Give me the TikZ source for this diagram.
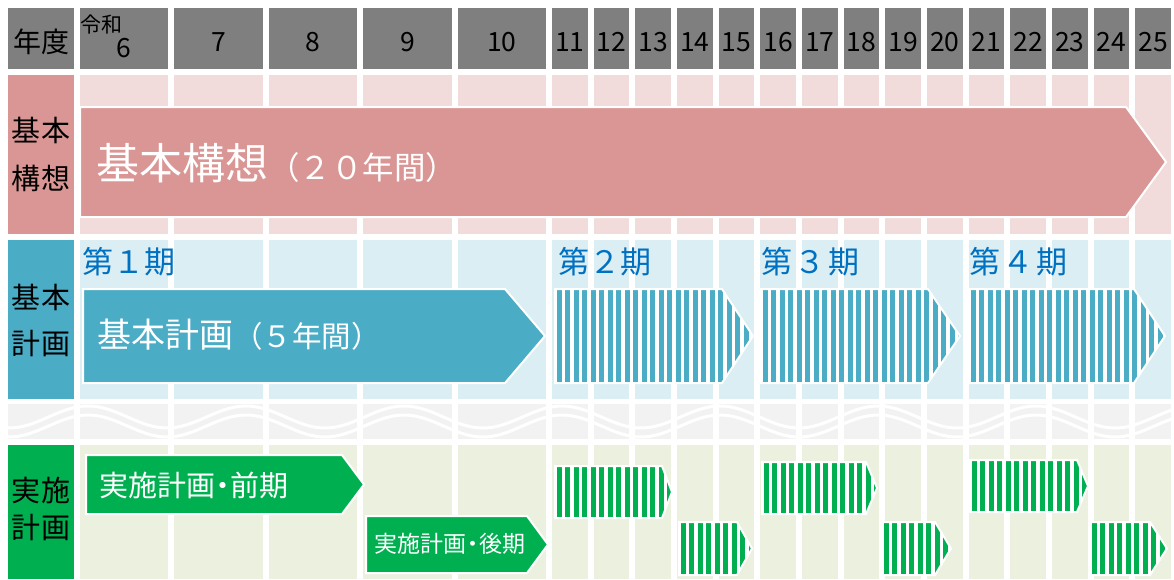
\documentclass[tikz,border=0pt]{standalone}
\usepackage{fontspec}
\setmainfont{Noto Sans CJK JP}
\definecolor{hdrgray}{HTML}{7F7F7F}
\definecolor{pinkL}{HTML}{DA9694}
\definecolor{pinkBG}{HTML}{F2DCDB}
\definecolor{blueL}{HTML}{4BACC6}
\definecolor{blueBG}{HTML}{DAEEF3}
\definecolor{greenL}{HTML}{00B050}
\definecolor{greenBG}{HTML}{EBF1DE}
\definecolor{waveBG}{HTML}{F2F2F2}
\definecolor{termblue}{HTML}{0070C0}
\newcommand\fsz[1]{\fontsize{#1}{#1}\selectfont}
\tikzset{
 txt/.style={inner sep=0pt, outer sep=0pt, anchor=base},
 hdrtxt/.style={txt, text=black, font=\fsz{26.5}},
 labtxt/.style={txt, text=black, font=\fsz{29}},
 arrowbody/.style={draw=white, line width=2pt, line join=miter},
 termtxt/.style={txt, anchor=base west, text=termblue, font=\fsz{31}},
 intxt/.style={txt, anchor=base west, text=white},
 wave/.style={draw=white, line width=3pt},
}
\newcommand\solidarrow[6]{%
 \filldraw[arrowbody, fill=#6] (#1,#2) -- (#3,#2) -- (#4,{(#2+#5)/2}) -- (#3,#5) -- (#1,#5) -- cycle;}
\newcommand\stripearrow[6]{%
 \begin{scope}
  \clip (#1,#2) -- (#3,#2) -- (#4,{(#2+#5)/2}) -- (#3,#5) -- (#1,#5) -- cycle;
  \fill[white] (#1,#2) rectangle (#4,#5);
  \foreach \k in {0,...,25}{\fill[#6] ({#1+1.5+8.5*\k},#2) rectangle ++(5,{#5-#2});}
 \end{scope}
 \draw[arrowbody] (#1,#2) -- (#3,#2) -- (#4,{(#2+#5)/2}) -- (#3,#5) -- (#1,#5) -- cycle;}
\begin{document}
\begin{tikzpicture}[x=1pt,y=-1pt]
\useasboundingbox (0,0) rectangle (1174,579);
\fill[white] (0,0) rectangle (1174,579);
% left label column
\fill[hdrgray] (8,8) rectangle (74,69);
\fill[pinkL] (8,75) rectangle (74,234);
\fill[blueL] (8,240) rectangle (74,399);
\fill[waveBG] (8,404) rectangle (74,439);
\fill[greenL] (8,445) rectangle (74,579);
% year columns 6-10
\foreach \i in {0,...,4}{
 \pgfmathsetmacro\xl{80+94.4*\i}
 \pgfmathsetmacro\xr{\xl+88.4}
 \fill[hdrgray] (\xl,8) rectangle (\xr,69);
 \fill[pinkBG] (\xl,75) rectangle (\xr,234);
 \fill[blueBG] (\xl,240) rectangle (\xr,399);
 \fill[waveBG] (\xl,404) rectangle (\xr,439);
 \fill[greenBG] (\xl,445) rectangle (\xr,579);
}
% year columns 11-25
\foreach \j in {0,...,14}{
 \pgfmathsetmacro\xl{552+41.667*\j}
 \pgfmathsetmacro\xr{\xl+35.67}
 \fill[hdrgray] (\xl,8) rectangle (\xr,69);
 \fill[pinkBG] (\xl,75) rectangle (\xr,234);
 \fill[blueBG] (\xl,240) rectangle (\xr,399);
 \fill[waveBG] (\xl,404) rectangle (\xr,439);
 \fill[greenBG] (\xl,445) rectangle (\xr,579);
}
% wave lines
\begin{scope}
 \clip (8,404) rectangle (1171,439);
 \draw[wave] plot[domain=0:1174, samples=300, smooth] (\x,{417-11*cos((\x-88)*2.2785)});
 \draw[wave] plot[domain=0:1174, samples=300, smooth] (\x,{426-11*cos((\x-88)*2.2785)});
\end{scope}
% header texts
\node[txt, font=\fsz{28}] (nendo) at (41,52.5) {年度};
\node[txt, anchor=base west, font=\fsz{21}] (reiwa) at (80,32) {令和};
\node[txt, font=\fsz{26.5}] (yr6) at (123.5,57) {6};
\foreach \lab [count=\i] in {7,8,9,10}{
 \node[hdrtxt] (yr\lab) at ({80+94.4*\i+44.2},51.5) {\lab};}
\foreach \lab [count=\j from 0] in {11,...,25}{
 \node[hdrtxt] (yr\lab) at ({552+41.667*\j+17.83},51.5) {\lab};}
% row labels
\node[labtxt] (labA1) at (41,141) {基本};
\node[labtxt] (labA2) at (41,189) {構想};
\node[labtxt] (labB1) at (41,308) {基本};
\node[labtxt] (labB2) at (41,354) {計画};
\node[labtxt] (labC1) at (41,501) {実施};
\node[labtxt] (labC2) at (41,538) {計画};
% basic concept arrow
\solidarrow{80}{107}{1126}{1166}{217}{pinkL}
\node[intxt] (kosoTxt) at (96,179) {\fsz{43}基本構想\fsz{31.5}（２０年間）};
% basic plan
\node[termtxt] (term1) at (82,273.5) {第１期};
\node[termtxt] (term2) at (558,273.5) {第２期};
\node[termtxt] (term3) at (761,273.5) {第\kern3pt３\kern3pt期};
\node[termtxt] (term4) at (969,273.5) {第\kern3pt４\kern3pt期};
\solidarrow{83}{289}{505}{545}{383}{blueL}
\node[intxt] (keikakuTxt) at (97,347.5) {\fsz{34}基本計画\fsz{29.5}（５年間）};
\stripearrow{555}{289}{722}{753}{383}{blueL}
\stripearrow{761}{289}{928}{960}{383}{blueL}
\stripearrow{969}{289}{1134}{1165}{383}{blueL}
% implementation plans
\solidarrow{86}{455}{342}{364}{514}{greenL}
\node[intxt, font=\fsz{29}] (zenkiTxt) at (99,496) {実施計画\kern-7pt・\kern-7pt前期};
\solidarrow{366}{516}{527}{548}{573}{greenL}
\node[intxt, font=\fsz{23}] (kokiTxt) at (374,552) {実施計画\kern-5pt・\kern-5pt後期};
\stripearrow{555}{466}{662}{672}{518}{greenL}
\stripearrow{679}{522}{737}{752}{575}{greenL}
\stripearrow{762}{462}{866}{877}{514}{greenL}
\stripearrow{882}{522}{935}{951}{575}{greenL}
\stripearrow{970}{460}{1077}{1088}{512}{greenL}
\stripearrow{1090}{522}{1150}{1167}{575}{greenL}
\end{tikzpicture}
\end{document}
